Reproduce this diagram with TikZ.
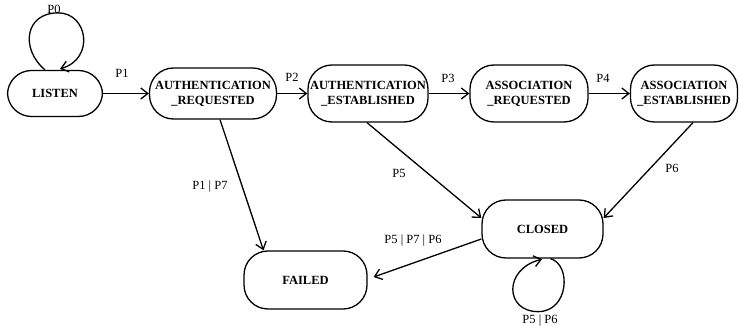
\documentclass[tikz,border=0pt]{standalone}
\usepackage{fontspec}
\setmainfont{Liberation Serif}
\usetikzlibrary{arrows.meta,calc}

\tikzset{
  state/.style={draw, line width=1.3pt, rounded corners=24pt, inner sep=0pt,
    align=center, font=\fontsize{12.5}{15}\selectfont\bfseries},
  trans/.style={line width=1.3pt, -{Straight Barb[length=7pt,width=11pt]}},
  lbl/.style={font=\fontsize{12.5}{15}\selectfont, inner sep=0pt}
}

\begin{document}
\begin{tikzpicture}[x=1pt, y=-1pt]
  \useasboundingbox (0,0) rectangle (739,328);

  % states
  \node[state, minimum width=95pt,  minimum height=46pt] (listen) at (55,93.5)  {LISTEN};
  \node[state, minimum width=127pt, minimum height=51pt] (areq)   at (213,93.5) {AUTHENTICATION\\\_REQUESTED};
  \node[state, minimum width=120pt, minimum height=57pt] (aest)   at (368,93.5) {AUTHENTICATION\\\_ESTABLISHED};
  \node[state, minimum width=118pt, minimum height=57pt] (sreq)   at (529,93.5) {ASSOCIATION\\\_REQUESTED};
  \node[state, minimum width=107pt, minimum height=57pt] (sest)   at (684,93.5) {ASSOCIATION\\\_ESTABLISHED};
  \node[state, minimum width=121pt, minimum height=58pt] (closed) at (542.5,229) {CLOSED};
  \node[state, minimum width=123pt, minimum height=58pt] (failed) at (305.5,280) {FAILED};

  % loop points
  \coordinate (ls) at ($(listen.north)+(-10,0)$);
  \coordinate (lt) at ($(listen.north)+(3,-57)$);
  \coordinate (le) at ($(listen.north)+(5,-1)$);
  \coordinate (cs) at ($(closed.south)+(8,0)$);
  \coordinate (cb) at ($(closed.south)+(-4.5,53)$);
  \coordinate (ce) at ($(closed.south)+(-0.5,0.5)$);

  % self loops
  \draw[trans] (ls) .. controls +(-25,-21) and +(-33,0) .. (lt)
                    .. controls +(30,0) and +(35,-10) .. (le);
  \draw[trans] (cs) .. controls +(21,6) and +(31,0) .. (cb)
                    .. controls +(-33,0) and +(-39,10) .. (ce);

  % transitions
  \draw[trans] (listen.east) -- (listen.east -| areq.west);
  \draw[trans] (areq.east) -- (areq.east -| aest.west);
  \draw[trans] (aest.east) -- (aest.east -| sreq.west);
  \draw[trans] (sreq.east) -- (sreq.east -| sest.west);
  \draw[trans] ($(areq.south)+(7,0)$) -- ($(failed.north)+(-42,0)$);
  \draw[trans] ($(aest.south)+(-1,0)$) -- ($(closed.west)+(0,-11)$);
  \draw[trans] ($(sest.south)+(9,0)$) -- ($(closed.east)+(0,-11)$);
  \draw[trans] ($(closed.west)+(0,10)$) -- ($(failed.east)+(6,-3)$);

  % labels
  \node[lbl] (l0)  at (54,9)    {P0};
  \node[lbl] (l1)  at (122,73)  {P1};
  \node[lbl] (l2)  at (292,77)  {P2};
  \node[lbl] (l3)  at (448,78)  {P3};
  \node[lbl] (l4)  at (603,78)  {P4};
  \node[lbl] (l17) at (210,187) {P1 | P7};
  \node[lbl] (l5)  at (399,173) {P5};
  \node[lbl] (l6)  at (672,168) {P6};
  \node[lbl] (l576) at (413,241) {P5 | P7 | P6};
  \node[lbl] (l56) at (540,321) {P5 | P6};
\end{tikzpicture}
\end{document}
